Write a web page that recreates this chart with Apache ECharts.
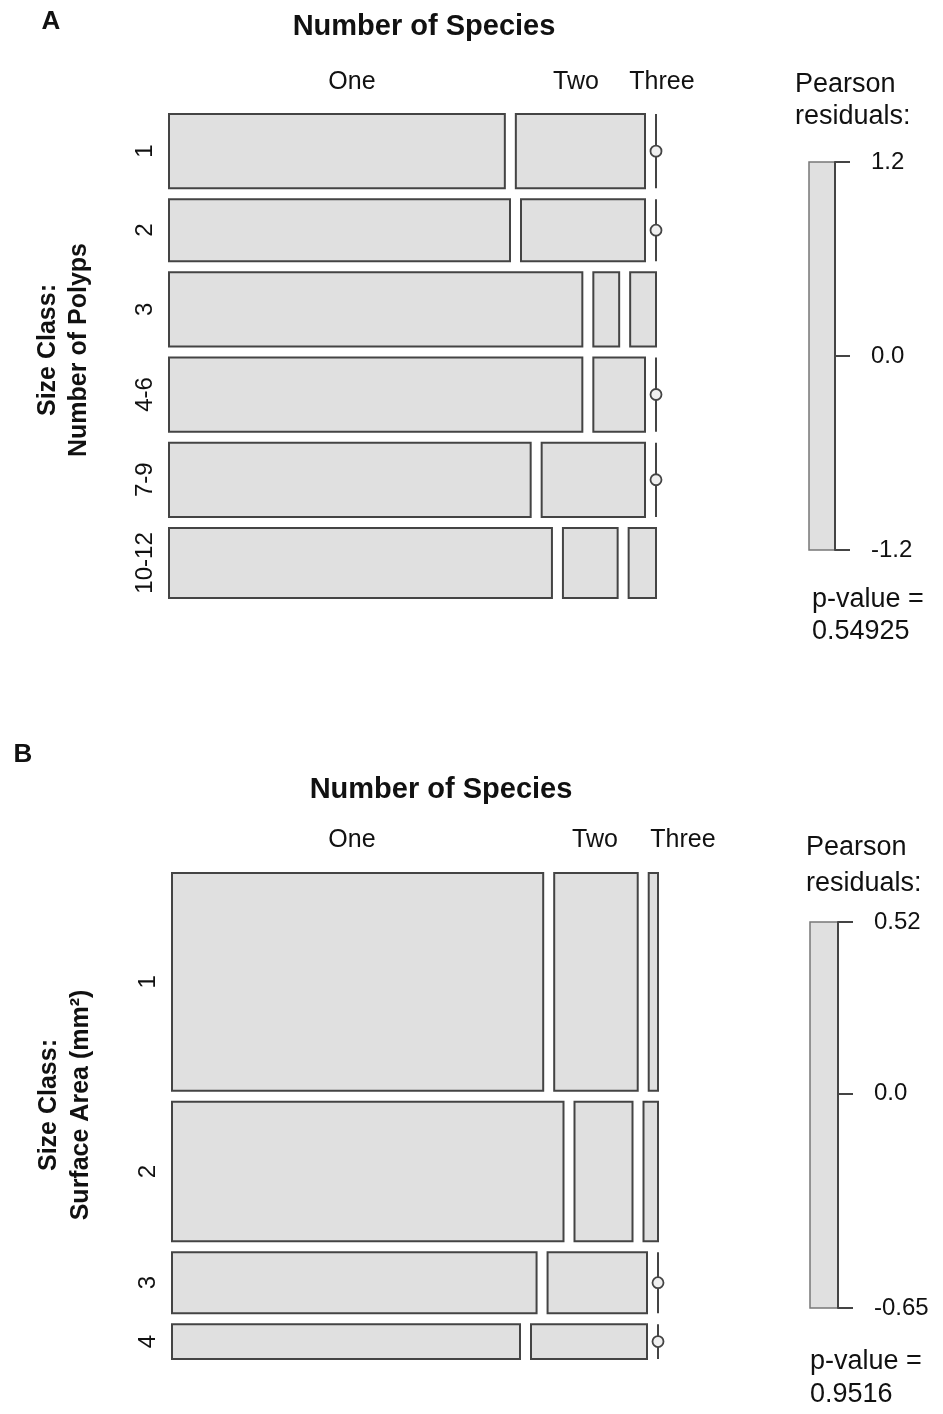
<!DOCTYPE html>
<html>
<head>
<meta charset="utf-8">
<script src="https://cdn.jsdelivr.net/npm/echarts@6/dist/echarts.min.js"></script>
<style>
  html, body { margin: 0; padding: 0; background: #ffffff; }
  #chart { width: 943px; height: 1414px; }
</style>
</head>
<body>
<div id="chart"></div>
<script>
// Number of species per colony, cross-tabulated against colony size class.
const speciesLevels = ['One', 'Two', 'Three'];

// Panel A: size class as number of polyps
const polypClasses = ['1', '2', '3', '4-6', '7-9', '10-12'];
const polypOne   = [13, 11, 16, 16, 14, 14];
const polypTwo   = [5, 4, 1, 2, 4, 2];
const polypThree = [0, 0, 1, 0, 0, 1];

// Panel B: size class as surface area
const areaClasses = ['1', '2', '3', '4'];
const areaOne   = [40, 27, 11, 6];
const areaTwo   = [9, 4, 3, 2];
const areaThree = [1, 1, 0, 0];

// Residual shading scales and test results
const residualTicksA = [-1.2, 0, 1.2];
const residualTicksB = [-0.65, 0, 0.52];
const pValueA = '0.54925';
const pValueB = '0.9516';

const FONT = '"Liberation Sans", Arial, Helvetica, sans-serif';
const EDGE = '#444444';
const FILL = '#e0e0e0';

// Lay out a two-way mosaic in unit axis space: rows split first, then species.
function mosaicCells(one, two, three, gapX, gapY) {
  const rows = one.map((v, i) => [v, two[i], three[i]]);
  const rowTotals = rows.map(r => r[0] + r[1] + r[2]);
  const grand = rowTotals.reduce((a, b) => a + b, 0);
  const usableY = 1 - gapY * (rows.length - 1);
  const usableX = 1 - gapX * (speciesLevels.length - 1);
  const cells = [];
  const centers = [];
  let y = 0;
  rows.forEach((r, i) => {
    const h = usableY * rowTotals[i] / grand;
    let x = 0;
    r.forEach((c, j) => {
      const w = usableX * c / rowTotals[i];
      cells.push([x, x + w, y, y + h, c === 0 ? 1 : 0]);
      x += w + gapX;
    });
    centers.push([y + h / 2, i]);
    y += h + gapY;
  });
  return { cells, centers };
}

function renderCell(params, api) {
  const p0 = api.coord([api.value(0), api.value(2)]);
  const p1 = api.coord([api.value(1), api.value(3)]);
  if (!api.value(4)) {
    return {
      type: 'rect',
      shape: { x: p0[0], y: p0[1], width: p1[0] - p0[0], height: p1[1] - p0[1] },
      style: { fill: FILL, stroke: EDGE, lineWidth: 2 }
    };
  }
  // empty cell: zero-width line with a small open circle
  const cy = (p0[1] + p1[1]) / 2;
  return {
    type: 'group',
    children: [
      { type: 'line', shape: { x1: p0[0], y1: p0[1], x2: p0[0], y2: p1[1] }, style: { stroke: EDGE, lineWidth: 2 } },
      { type: 'circle', shape: { cx: p0[0], cy: cy, r: 5.5 }, style: { fill: '#f0f0f0', stroke: EDGE, lineWidth: 1.8 } }
    ]
  };
}

function rowLabelRenderer(labels) {
  return function (params, api) {
    const p = api.coord([0, api.value(0)]);
    return {
      type: 'text',
      x: p[0] - 24, y: p[1], rotation: Math.PI / 2,
      style: {
        text: labels[api.value(1)], fill: '#111', font: '24px ' + FONT,
        textAlign: 'center', textVerticalAlign: 'middle'
      }
    };
  };
}

function renderScaleBar(params, api) {
  const p0 = api.coord([0, api.value(1)]);
  const p1 = api.coord([1, api.value(0)]);
  return {
    type: 'rect',
    shape: { x: p0[0], y: p0[1], width: p1[0] - p0[0], height: p1[1] - p0[1] },
    style: { fill: FILL, stroke: '#777', lineWidth: 1.5 }
  };
}

const mosaicA = mosaicCells(polypOne, polypTwo, polypThree, 11 / 487, 11 / 484);
const mosaicB = mosaicCells(areaOne, areaTwo, areaThree, 11 / 486, 11 / 486);

const hiddenUnit = { type: 'value', min: 0, max: 1, show: false };

function scaleAxis(gridIndex, ticks, fmt) {
  return {
    type: 'value', gridIndex: gridIndex, position: 'right', z: 5,
    min: ticks[0], max: ticks[ticks.length - 1],
    axisLine: { show: true, onZero: false, lineStyle: { color: '#444', width: 2 } },
    axisTick: { show: true, length: 15, customValues: ticks, lineStyle: { color: '#444', width: 2 } },
    axisLabel: { show: true, margin: 36, customValues: ticks, formatter: fmt, color: '#111', fontSize: 24, fontFamily: FONT },
    splitLine: { show: false }
  };
}

function txt(text, x, y, size, opts) {
  opts = opts || {};
  return {
    type: 'text', x: x, y: y, rotation: opts.rotation || 0,
    style: {
      text: text, fill: '#111',
      font: (opts.bold ? 'bold ' : '') + size + 'px ' + FONT,
      textAlign: opts.align || 'center', textVerticalAlign: 'middle',
      lineHeight: opts.lineHeight || size * 1.2
    }
  };
}

const option = {
  backgroundColor: '#ffffff',
  animation: false,
  grid: [
    { left: 169, top: 114, width: 487, height: 484 },
    { left: 172, top: 873, width: 486, height: 486 },
    { left: 809, top: 162, width: 26, height: 388 },
    { left: 810, top: 922, width: 28, height: 386 }
  ],
  xAxis: [
    Object.assign({ gridIndex: 0 }, hiddenUnit),
    Object.assign({ gridIndex: 1 }, hiddenUnit),
    Object.assign({ gridIndex: 2 }, hiddenUnit),
    Object.assign({ gridIndex: 3 }, hiddenUnit)
  ],
  yAxis: [
    Object.assign({ gridIndex: 0, inverse: true }, hiddenUnit),
    Object.assign({ gridIndex: 1, inverse: true }, hiddenUnit),
    scaleAxis(2, residualTicksA, v => v.toFixed(1)),
    scaleAxis(3, residualTicksB, v => (v === 0 ? '0.0' : String(v)))
  ],
  series: [
    { type: 'custom', xAxisIndex: 0, yAxisIndex: 0, renderItem: renderCell, data: mosaicA.cells, silent: true },
    { type: 'custom', xAxisIndex: 0, yAxisIndex: 0, renderItem: rowLabelRenderer(polypClasses), data: mosaicA.centers, silent: true, clip: false },
    { type: 'custom', xAxisIndex: 1, yAxisIndex: 1, renderItem: renderCell, data: mosaicB.cells, silent: true },
    { type: 'custom', xAxisIndex: 1, yAxisIndex: 1, renderItem: rowLabelRenderer(areaClasses), data: mosaicB.centers, silent: true, clip: false },
    { type: 'custom', xAxisIndex: 2, yAxisIndex: 2, renderItem: renderScaleBar, silent: true, z: 1,
      data: [[residualTicksA[0], residualTicksA[residualTicksA.length - 1]]] },
    { type: 'custom', xAxisIndex: 3, yAxisIndex: 3, renderItem: renderScaleBar, silent: true, z: 1,
      data: [[residualTicksB[0], residualTicksB[residualTicksB.length - 1]]] }
  ],
  graphic: [
    // panel A
    txt('A', 51, 22, 26, { bold: true }),
    txt('Number of Species', 424, 27, 29, { bold: true }),
    txt(speciesLevels[0], 352, 82, 25),
    txt(speciesLevels[1], 576, 82, 25),
    txt(speciesLevels[2], 662, 82, 25),
    txt('Size Class:\nNumber of Polyps', 64, 350, 25, { bold: true, rotation: Math.PI / 2, lineHeight: 31 }),
    txt('Pearson\nresiduals:', 795, 101, 27, { align: 'left', lineHeight: 32 }),
    txt('p-value =\n' + pValueA, 812, 616, 27, { align: 'left', lineHeight: 32 }),
    // panel B
    txt('B', 23, 755, 26, { bold: true }),
    txt('Number of Species', 441, 790, 29, { bold: true }),
    txt(speciesLevels[0], 352, 840, 25),
    txt(speciesLevels[1], 595, 840, 25),
    txt(speciesLevels[2], 683, 840, 25),
    txt('Size Class:\nSurface Area (mm\u00B2)', 65, 1105, 25, { bold: true, rotation: Math.PI / 2, lineHeight: 32 }),
    txt('Pearson\nresiduals:', 806, 866, 27, { align: 'left', lineHeight: 36 }),
    txt('p-value =\n' + pValueB, 810, 1378, 27, { align: 'left', lineHeight: 33 })
  ]
};

const chart = echarts.init(document.getElementById('chart'), null, { renderer: 'canvas' });
chart.setOption(option);
</script>
</body>
</html>
